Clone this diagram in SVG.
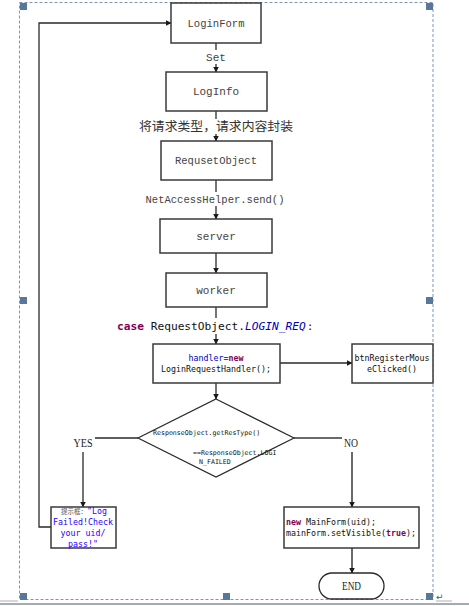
<svg xmlns="http://www.w3.org/2000/svg" width="469" height="606" viewBox="0 0 469 606">
<style>
.box{fill:#fff;stroke:#3a3a3a;stroke-width:1.5}
.lbl{font-family:"Liberation Mono",monospace;font-size:11px;fill:#444;text-anchor:middle}
.code{font-family:"DejaVu Sans Mono","Liberation Mono",monospace;font-size:8.3px;fill:#111}
.small{font-size:6.6px}
.con{fill:none;stroke:#2a2a2a;stroke-width:1.3}
.gray{stroke:#6a6a6a;stroke-width:2}
.kw{fill:#7F0055;font-weight:bold}
.fld{fill:#0000C0}
.str{fill:#2A00FF}
.yn{font-family:"Liberation Serif",serif;font-size:13px;fill:#222;text-anchor:middle}
.h{fill:#58779b}
</style>
<defs>
<marker id="ah" markerWidth="6" markerHeight="6" refX="5.5" refY="3" orient="auto" markerUnits="userSpaceOnUse">
<path d="M0,0 L6,3 L0,6 z" fill="#1a1a1a"/>
</marker>
</defs>
<rect width="469" height="606" fill="#fff"/>
<!-- frame -->
<g id="frame">
<rect x="19.5" y="2.5" width="413.5" height="597" fill="none" stroke="#7f95b5" stroke-width="1" stroke-dasharray="3,2"/>
<rect class="h" x="20" y="3" width="7" height="7"/>
<rect class="h" x="223" y="3" width="7" height="7"/>
<rect class="h" x="426" y="3" width="7" height="7"/>
<rect class="h" x="20" y="297" width="7" height="7"/>
<rect class="h" x="426" y="297" width="7" height="7"/>
<rect class="h" x="20" y="593" width="7" height="7"/>
<rect class="h" x="223" y="593" width="7" height="7"/>
<rect class="h" x="426" y="593" width="7" height="7"/>
<rect x="0" y="603" width="469" height="2" fill="#a3abb5"/>
<line x1="0" y1="601" x2="18" y2="601" stroke="#b0b0b0" stroke-width="1"/>
<line x1="436" y1="601" x2="452" y2="601" stroke="#b0b0b0" stroke-width="1"/>
<text x="436" y="600" font-family="DejaVu Sans,sans-serif" font-size="9" fill="#555">↵</text>
</g>
<!-- connectors -->
<g id="connectors">
<line class="con" x1="216" y1="43" x2="216" y2="72" marker-end="url(#ah)"/>
<line class="con" x1="216" y1="111" x2="216" y2="141" marker-end="url(#ah)"/>
<line class="con" x1="216" y1="180" x2="216" y2="219" marker-end="url(#ah)"/>
<line class="con" x1="216" y1="253" x2="216" y2="273" marker-end="url(#ah)"/>
<line class="con" x1="216" y1="307" x2="216" y2="344" marker-end="url(#ah)"/>
<line class="con" x1="216" y1="383" x2="216" y2="399" marker-end="url(#ah)"/>
<line class="con" x1="280" y1="363" x2="352" y2="363" marker-end="url(#ah)"/>
<path class="con" d="M138,438 H83 V507" marker-end="url(#ah)"/>
<path class="con gray" d="M294,438 H352 V507" marker-end="url(#ah)"/>
<line class="con gray" x1="352" y1="548" x2="352" y2="573" marker-end="url(#ah)"/>
<path class="con" d="M51,527 H39 V23 H171" marker-end="url(#ah)"/>
<!-- connector labels -->
<rect x="203" y="50" width="26" height="14" fill="#fff"/>
<text class="lbl" x="216" y="61">Set</text>
<rect x="137" y="119" width="158" height="15" fill="#fff"/>
<text x="216" y="131" font-family="Noto Sans CJK SC,sans-serif" font-size="12.5" fill="#333" text-anchor="middle" textLength="154" lengthAdjust="spacingAndGlyphs">将请求类型，请求内容封装</text>
<rect x="143" y="192" width="144" height="14" fill="#fff"/>
<text class="lbl" x="215" y="203" textLength="139" lengthAdjust="spacingAndGlyphs">NetAccessHelper.send()</text>
<rect x="115" y="318" width="208" height="16" fill="#fff"/>
<text x="117" y="330" font-family="DejaVu Sans Mono,monospace" font-size="11.2" fill="#111"><tspan class="kw">case</tspan> RequestObject.<tspan fill="#0000C0" font-style="italic">LOGIN_REQ</tspan><tspan dx="1">:</tspan></text>
<rect x="71" y="430" width="24" height="22" fill="#fff"/>
<text class="yn" x="83" y="447" textLength="19" lengthAdjust="spacingAndGlyphs">YES</text>
<rect x="342" y="430" width="18" height="22" fill="#fff"/>
<text class="yn" x="351" y="447" textLength="14" lengthAdjust="spacingAndGlyphs">NO</text>
</g>
<g id="loginform">
<rect class="box" x="171" y="3" width="90" height="40"/>
<text class="lbl" x="216" y="27" textLength="57" lengthAdjust="spacingAndGlyphs">LoginForm</text>
</g>
<g id="loginfo">
<rect class="box" x="166" y="72" width="101" height="39"/>
<text class="lbl" x="216" y="95">LogInfo</text>
</g>
<g id="requsetobject">
<rect class="box" x="161" y="141" width="111" height="39"/>
<text class="lbl" x="216" y="164" textLength="82" lengthAdjust="spacingAndGlyphs">RequsetObject</text>
</g>
<g id="server">
<rect class="box" x="160" y="219" width="112" height="34"/>
<text class="lbl" x="216" y="240">server</text>
</g>
<g id="worker">
<rect class="box" x="166" y="273" width="101" height="34"/>
<text class="lbl" x="216" y="294">worker</text>
</g>
<g id="handler">
<rect class="box" x="153" y="344" width="127" height="39"/>
<text class="code" x="216" y="361" text-anchor="middle"><tspan class="fld">handler</tspan>=<tspan class="kw">new</tspan></text>
<text class="code" x="216" y="372" text-anchor="middle">LoginRequestHandler();</text>
</g>
<g id="btnregister">
<rect class="box" x="352" y="344" width="81" height="39"/>
<text class="code" x="392" y="361" text-anchor="middle">btnRegisterMous</text>
<text class="code" x="392" y="372" text-anchor="middle">eClicked()</text>
</g>
<g id="decision">
<polygon points="216,399 294,438 216,477 138,438" fill="#fff" stroke="#2a2a2a" stroke-width="1.2"/>
<text class="code small" x="153" y="435">ResponseObject.getResType()</text>
<text class="code small" x="193" y="455">==ResponseObject.LOGI</text>
<text class="code small" x="199" y="464">N_FAILED</text>
</g>
<g id="failed">
<rect class="box" x="51" y="507" width="65" height="41"/>
<text class="code" x="84" y="514" text-anchor="middle"><tspan font-family="Noto Sans CJK SC,sans-serif" font-size="6.5" fill="#555">提示框：</tspan><tspan class="str">"Log</tspan></text>
<text class="code str" x="83" y="525" text-anchor="middle">Failed!Check</text>
<text class="code str" x="83" y="536" text-anchor="middle">your uid/</text>
<text class="code str" x="83" y="547" text-anchor="middle">pass!"</text>
</g>
<g id="mainform">
<rect class="box" x="284" y="507" width="135" height="41"/>
<text class="code" x="286" y="525"><tspan class="kw">new</tspan> MainForm(uid);</text>
<text class="code" x="286" y="536">mainForm.setVisible(<tspan class="kw">true</tspan>);</text>
</g>
<g id="end">
<rect x="319" y="573" width="65" height="26" rx="13" ry="13" fill="#fff" stroke="#2a2a2a" stroke-width="1.3"/>
<text class="yn" x="351.5" y="590" textLength="19" lengthAdjust="spacingAndGlyphs">END</text>
</g>
</svg>
